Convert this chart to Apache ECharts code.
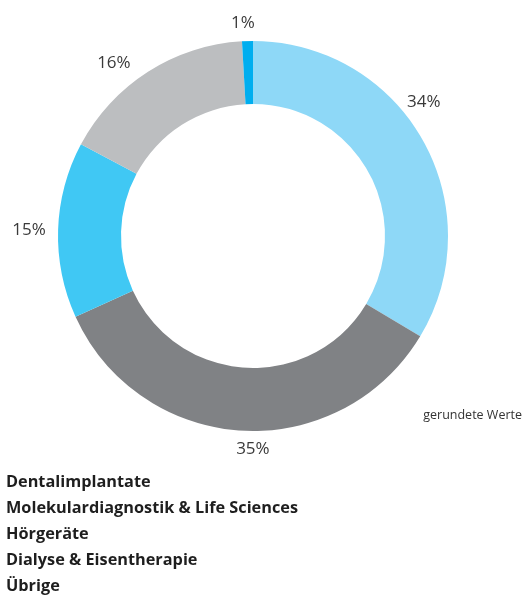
<!DOCTYPE html>
<html><head><meta charset="utf-8">
<script src="https://cdn.jsdelivr.net/npm/echarts@6/dist/echarts.min.js"></script>
<style>html,body{margin:0;padding:0;background:#fff}#c{width:524px;height:595px}</style>
</head><body><div id="c"></div>
<script>
const categories = ['Dentalimplantate', 'Molekulardiagnostik & Life Sciences', 'Hörgeräte', 'Dialyse & Eisentherapie', 'Übrige'];
const values = [33.6, 34.6, 14.6, 16.3, 0.9];
const valueLabels = ['34%', '35%', '15%', '16%', '1%'];
const note = 'gerundete Werte';

const colors = ['#8ed8f7', '#808285', '#40c8f4', '#bcbec0', '#00aeef'];
const CX = 253, CY = 236, R0 = 132, R1 = 195;
const labelNudge = [[-24, -24], [12, -1], [-2, 1], [-20, 14], [-4, 1]];

const total = values.reduce((a, b) => a + b, 0);
const mids = [];
let acc = 0;
values.forEach(v => { mids.push((acc + v / 2) / total * 2 * Math.PI); acc += v; });

const chart = echarts.init(document.getElementById('c'), null, { renderer: 'canvas' });
chart.setOption({
  animation: false,
  color: colors,
  title: {
    text: note, right: 2, top: 409, padding: 0,
    textStyle: { fontFamily: 'Open Sans', fontSize: 12.5, fontWeight: 'normal', color: '#333' }
  },
  legend: {
    data: categories,
    orient: 'vertical', left: 1, top: 469, height: 300, padding: 0,
    itemWidth: 0, itemHeight: 0, itemGap: 0,
    selectedMode: false,
    textStyle: { fontFamily: 'Open Sans', fontWeight: 'bold', fontSize: 16.3, color: '#1e1e1e', lineHeight: 26 }
  },
  series: [{
    type: 'pie',
    center: [CX, CY],
    radius: [R0, R1],
    startAngle: 90,
    clockwise: true,
    avoidLabelOverlap: false,
    silent: true,
    data: categories.map((c, i) => ({ name: c, value: values[i] })),
    label: {
      show: true, position: 'outside',
      formatter: p => valueLabels[p.dataIndex],
      fontFamily: 'Open Sans', fontSize: 17, color: '#3a3a3a'
    },
    labelLine: { show: false },
    labelLayout: p => {
      const i = p.dataIndex, a = mids[i];
      const dx = Math.sin(a), dy = -Math.cos(a);
      const w = p.labelRect.width, h = p.labelRect.height;
      const R = R1 + 10 + Math.abs(dx) * w / 2 + Math.abs(dy) * h / 2;
      return { x: CX + R * dx + labelNudge[i][0], y: CY + R * dy + labelNudge[i][1], align: 'center', verticalAlign: 'middle' };
    }
  }]
});
</script>
</body></html>
